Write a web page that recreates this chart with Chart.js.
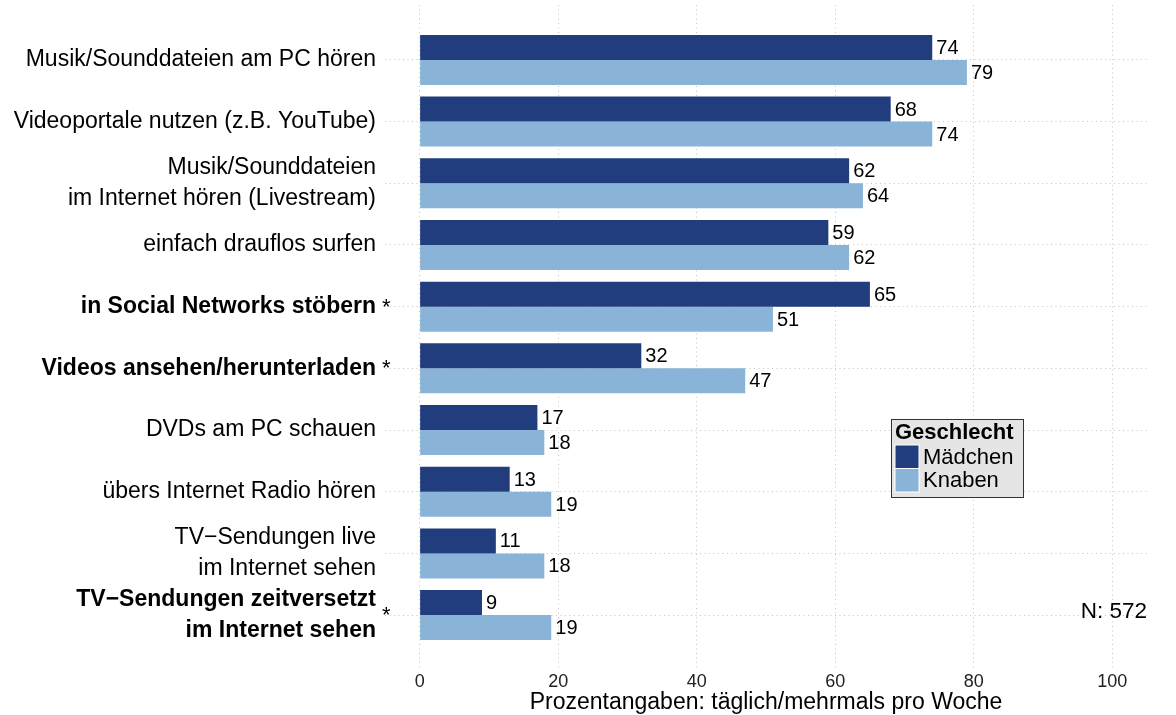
<!DOCTYPE html>
<html>
<head>
<meta charset="utf-8">
<script src="https://cdn.jsdelivr.net/npm/chart.js@4"></script>
<style>
  html, body { margin: 0; padding: 0; background: #fff; }
  #chartCanvas { display: block; }
</style>
</head>
<body>
<div style="width:1176px;height:715px;position:relative;">
  <canvas id="chartCanvas" width="1176" height="715"></canvas>
</div>
<script>
// Activities (top to bottom), multi-line labels as arrays
const categories = [
    ['Musik/Sounddateien am PC hören'],
    ['Videoportale nutzen (z.B. YouTube)'],
    ['Musik/Sounddateien', 'im Internet hören (Livestream)'],
    ['einfach drauflos surfen'],
    ['in Social Networks stöbern'],
    ['Videos ansehen/herunterladen'],
    ['DVDs am PC schauen'],
    ['übers Internet Radio hören'],
    ['TV\u2212Sendungen live', 'im Internet sehen'],
    ['TV\u2212Sendungen zeitversetzt', 'im Internet sehen']
];
// significant gender difference -> bold label with asterisk
const significant = [false, false, false, false, true, true, false, false, false, true];

const seriesNames = ['Mädchen', 'Knaben'];
const girls = [74, 68, 62, 59, 65, 32, 17, 13, 11, 9];
const boys = [79, 74, 64, 62, 51, 47, 18, 19, 18, 19];

const xTicks = [0, 20, 40, 60, 80, 100];
const legendTitle = 'Geschlecht';
const axisTitle = 'Prozentangaben: täglich/mehrmals pro Woche';
const sampleSize = 572;

const FONT = '"Liberation Sans", Arial, Helvetica, sans-serif';
const gridColor = '#c4c4c4';

// Draws value labels, asterisks, legend box and the N note
const annotations = {
    id: 'annotations',
    afterDatasetsDraw(chart) {
        const ctx = chart.ctx;
        const yScale = chart.scales.y;
        ctx.save();

        // value labels right of the bars
        ctx.font = '20px ' + FONT;
        ctx.fillStyle = '#000';
        ctx.textBaseline = 'middle';
        ctx.textAlign = 'left';
        chart.data.datasets.forEach((ds, di) => {
            chart.getDatasetMeta(di).data.forEach((bar, i) => {
                ctx.fillText(String(ds.data[i].x), bar.x + 4, bar.y + 1);
            });
        });

        // asterisks next to significant categories
        ctx.font = '22px ' + FONT;
        significant.forEach((s, i) => {
            if (s) ctx.fillText('*', 382, yScale.getPixelForValue(i) + 1);
        });

        // N note
        ctx.font = '22.5px ' + FONT;
        ctx.textAlign = 'right';
        ctx.fillText('N: ' + sampleSize, 1147, 612);

        // legend
        const lx = 891, ly = 419, lw = 132, lh = 78;
        ctx.fillStyle = '#e5e5e5';
        ctx.fillRect(lx, ly, lw, lh);
        ctx.strokeStyle = '#333';
        ctx.lineWidth = 1;
        ctx.strokeRect(lx + 0.5, ly + 0.5, lw, lh);
        ctx.fillStyle = '#000';
        ctx.textAlign = 'left';
        ctx.font = 'bold 22px ' + FONT;
        ctx.fillText(legendTitle, lx + 4, ly + 14);
        ctx.font = '22px ' + FONT;
        chart.data.datasets.forEach((ds, di) => {
            const ky = ly + 26 + di * 23.5;
            ctx.fillStyle = ds.backgroundColor;
            ctx.fillRect(lx + 4, ky, 24, 23.5);
            ctx.strokeStyle = '#fff';
            ctx.strokeRect(lx + 4, ky, 24, 23.5);
            ctx.fillStyle = '#000';
            ctx.fillText(ds.label, lx + 32, ky + 12.5);
        });
        ctx.restore();
    }
};

const ctx = document.getElementById('chartCanvas');
window.myChart = new Chart(ctx, {
    type: 'bar',
    data: {
        datasets: [{
            label: seriesNames[0],
            data: girls.map((v, i) => ({ x: v, y: i })),
            backgroundColor: '#213d7d'
        }, {
            label: seriesNames[1],
            data: boys.map((v, i) => ({ x: v, y: i })),
            backgroundColor: '#8ab4d7'
        }]
    },
    options: {
        indexAxis: 'y',
        responsive: false,
        animation: false,
        categoryPercentage: 0.81,
        barPercentage: 1,
        layout: { padding: { top: 5, right: 29, left: 0, bottom: 0 } },
        plugins: {
            legend: { display: false },
            tooltip: { enabled: false }
        },
        scales: {
            x: {
                type: 'linear',
                min: -5,
                max: 105,
                afterBuildTicks: (s) => { s.ticks = xTicks.map(v => ({ value: v })); },
                afterFit: (s) => { s.height = 45; s.paddingLeft = 0; s.paddingRight = 0; },
                border: { display: false, dash: [1, 3.5] },
                grid: { color: gridColor, drawTicks: false, lineWidth: 1 },
                ticks: { color: '#222', padding: 1, autoSkip: false, maxRotation: 0, font: { family: FONT, size: 18 } },
                title: {
                    display: true,
                    text: axisTitle,
                    color: '#000',
                    padding: { top: 0, bottom: 0 },
                    font: { family: FONT, size: 23, lineHeight: 1.1 }
                }
            },
            y: {
                type: 'linear',
                reverse: true,
                offset: false,
                min: -0.89,
                max: 9.89,
                afterBuildTicks: (s) => { s.ticks = categories.map((_, i) => ({ value: i })); },
                afterFit: (s) => { s.width = 385; s.paddingTop = 0; s.paddingBottom = 0; },
                border: { display: false, dash: [1, 3.5] },
                grid: { color: gridColor, drawTicks: false, offset: false },
                ticks: {
                    color: '#000',
                    padding: 9,
                    autoSkip: false,
                    callback: (v) => categories[v],
                    font: (c) => ({
                        family: FONT,
                        size: 23,
                        lineHeight: 1.36,
                        weight: significant[c.tick ? c.tick.value : c.index] ? 'bold' : 'normal'
                    })
                }
            }
        }
    },
    plugins: [annotations]
});
</script>
</body>
</html>
